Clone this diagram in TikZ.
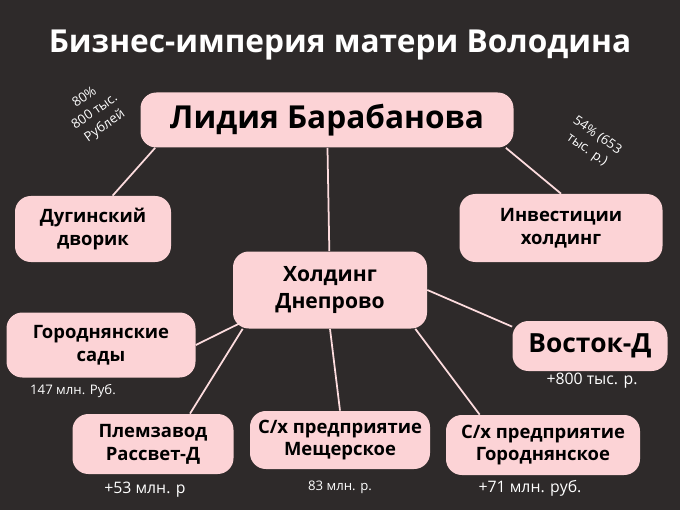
\documentclass[tikz,border=0pt]{standalone}
\usepackage{fontspec}
\setmainfont{Open Sans}
\usetikzlibrary{calc}
\definecolor{bgdark}{HTML}{2E2A2A}
\definecolor{boxpink}{HTML}{FCD3D6}
\tikzset{
    box/.style={fill=boxpink,rounded corners=9pt,align=center,font=\fontsize{10.5}{13}\selectfont\bfseries,text=black,inner sep=0pt},
    link/.style={draw=boxpink!80,line width=1pt},
    note/.style={text=white,font=\fontsize{7.5}{10}\selectfont,align=center}
}
\begin{document}
\begin{tikzpicture}[x=0.02cm,y=-0.02cm]
        \fill[bgdark](0,0)rectangle(680,510);
        \node[text=white,font=\fontsize{18}{21}\selectfont\bfseries](title)at(340,45){Бизнес-империя матери Володина};
        % boxes
        \node[box,minimum width=373*0.02cm,minimum height=55*0.02cm,font=\fontsize{18}{21}\selectfont\bfseries](lidia)at(327,120){Лидия Барабанова};
        \node[box,minimum width=156*0.02cm,minimum height=66*0.02cm](dugino)at(93,229){Дугинский\\дворик};
        \node[box,minimum width=203*0.02cm,minimum height=68*0.02cm](invest)at(561,228){Инвестиции\\холдинг};
        \node[box,minimum width=194*0.02cm,minimum height=77*0.02cm,font=\fontsize{12}{15}\selectfont\bfseries](dnepr)at(330,290){Холдинг\\Днепрово};
        \node[box,minimum width=189*0.02cm,minimum height=65*0.02cm](sady)at(101,345){Городнянские\\сады};
        \node[box,minimum width=155*0.02cm,minimum height=50*0.02cm,font=\fontsize{15}{18}\selectfont\bfseries](vostok)at(590,346){Восток-Д};
        \node[box,minimum width=161*0.02cm,minimum height=60*0.02cm](plem)at(153,444){Племзавод\\Рассвет-Д};
        \node[box,minimum width=180*0.02cm,minimum height=58*0.02cm](mesh)at(340,440){С/х предприятие\\Мещерское};
        \node[box,minimum width=194*0.02cm,minimum height=60*0.02cm](gorod)at(543,445){С/х предприятие\\Городнянское};
        % connectors
        \draw[link]($(lidia.south west)+(15,0)$)--($(dugino.north west)+(98,0)$);
        \draw[link]($(lidia.south east)+(-8,0)$)--(invest.north);
        \draw[link](lidia)--(dnepr);
        \draw[link]($(dnepr.south west)+(8,-6)$)--(sady.east);
        \draw[link](dnepr.east)--($(vostok.north west)+(0,6)$);
        \draw[link]($(dnepr.south west)+(10,0)$)--($(plem.north)+(37,0)$);
        \draw[link](dnepr.south)--(mesh.north);
        \draw[link]($(dnepr.south east)+(-12,0)$)--($(gorod.north west)+(34,0)$);
        % figures
        \node[note,rotate=35](n1)at(95,112){80\%\\800 тыс.\\Рублей};
        \node[note,rotate=-35](n2)at(592,143){54\% (653\\тыс. р.)};
        \node[note](n3)at(73,391){147 млн. Руб.};
        \node[note,font=\fontsize{9}{11}\selectfont](n4)at(592,381){+800 тыс. р.};
        \node[note,font=\fontsize{9}{11}\selectfont](n5)at(145,490){+53 млн. р};
        \node[note](n6)at(340,487){83 млн. р.};
        \node[note,font=\fontsize{9}{11}\selectfont](n7)at(530,488){+71 млн. руб.};
\end{tikzpicture}
\end{document}
